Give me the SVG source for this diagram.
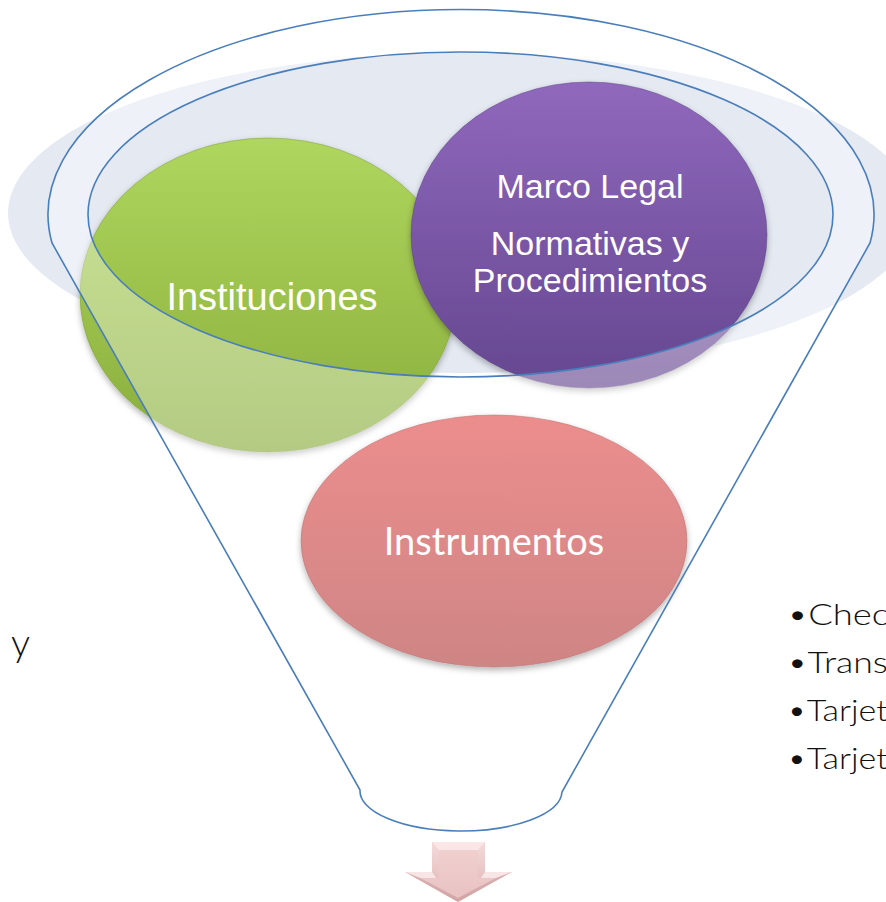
<svg xmlns="http://www.w3.org/2000/svg" width="886" height="902" viewBox="0 0 886 902">
  <defs>
    <linearGradient id="gGreen" x1="0" y1="0" x2="0" y2="1">
      <stop offset="0" stop-color="#afd65e"/>
      <stop offset="0.5" stop-color="#9cc24c"/>
      <stop offset="1" stop-color="#8aad3d"/>
    </linearGradient>
    <linearGradient id="gPurple" x1="0" y1="0" x2="0" y2="1">
      <stop offset="0" stop-color="#9068bd"/>
      <stop offset="0.5" stop-color="#7a57a6"/>
      <stop offset="1" stop-color="#654790"/>
    </linearGradient>
    <linearGradient id="gPink" x1="0" y1="0" x2="0" y2="1">
      <stop offset="0" stop-color="#ec8d8d"/>
      <stop offset="1" stop-color="#cf8585"/>
    </linearGradient>
    <linearGradient id="gArrow" x1="0" y1="0" x2="0" y2="1">
      <stop offset="0" stop-color="#f5dada"/>
      <stop offset="1" stop-color="#ddb2b2"/>
    </linearGradient>
    <filter id="shadow" x="-10%" y="-10%" width="120%" height="125%">
      <feDropShadow dx="0" dy="3" stdDeviation="3" flood-color="#000" flood-opacity="0.3"/>
    </filter>
    <style>
      .node-ellipse { filter: url(#shadow); stroke-width: 1; stroke-opacity: 0.5; }
      .label { fill: #ffffff; font-family: "Liberation Sans", Arial, sans-serif; text-anchor: middle; }
      .label2 { fill: #ffffff; font-family: Lato, "Liberation Sans", sans-serif; text-anchor: middle; }
      .funnel-line { fill: none; stroke: #4a7ebb; stroke-width: 1.6; }
      .side { fill: #111111; font-family: Lato, "Liberation Sans", sans-serif; font-weight: 300; font-size: 29px; }
      .side-big { font-size: 38px; }
    </style>
  </defs>

  <rect width="886" height="902" fill="#ffffff"/>

  <!-- pale background ellipse of the funnel mouth -->
  <ellipse cx="462" cy="213" rx="454" ry="160" fill="#e4e9f2"/>

  <g id="node-instituciones">
    <ellipse class="node-ellipse" cx="268" cy="295" rx="188" ry="157" fill="url(#gGreen)" stroke="#7d9e36"/>
    <text class="label" x="272" y="310" font-size="38">Instituciones</text>
  </g>

  <g id="node-marco-legal">
    <ellipse class="node-ellipse" cx="589" cy="235" rx="178" ry="153" fill="url(#gPurple)" stroke="#5a3f80"/>
    <text class="label" x="590" y="198" font-size="34">Marco Legal</text>
    <text class="label" x="590" y="255" font-size="34">Normativas y</text>
    <text class="label" x="590" y="292" font-size="34">Procedimientos</text>
  </g>

  <!-- funnel body: translucent white over everything outside the mouth -->
  <g id="funnel">
    <path d="M52,243 A413,205 0 1 1 870,243 L562,792 A101,40 0 0 1 360,790 Z M88,214.5 A372.5,162.5 0 1 0 833,214.5 A372.5,162.5 0 1 0 88,214.5 Z" fill="#ffffff" fill-opacity="0.36" fill-rule="evenodd"/>
  </g>

  <g id="node-instrumentos">
    <ellipse class="node-ellipse" cx="494" cy="541" rx="193" ry="126" fill="url(#gPink)" stroke="#b87070"/>
    <text class="label2" x="494" y="555" font-size="38">Instrumentos</text>
  </g>

  <g id="connectors">
    <path class="funnel-line" d="M52,243 A413,205 0 1 1 870,243 L562,792 A101,40 0 0 1 360,790 Z"/>
    <ellipse class="funnel-line" cx="460.5" cy="214.5" rx="372.5" ry="162.5"/>
  </g>

  <g id="arrow">
    <polygon points="432,842 485,842 485,872 512,872 458,902 405,872 432,872" fill="url(#gArrow)"/>
    <polygon points="432,842 485,842 478,850 439,850" fill="#fbeaea" opacity="0.8"/>
    <polygon points="405,872 432,872 436,878 420,878" fill="#fbeeee" opacity="0.8"/>
    <polygon points="485,872 512,872 496,878 481,878" fill="#fbeeee" opacity="0.8"/>
    <polygon points="439,850 478,850 478,878 496,878 458,898 420,878 439,878" fill="#f0cccc" opacity="0.6"/>
    <polygon points="458,902 512,872 496,878 458,898 420,878 405,872" fill="#c99999" opacity="0.5"/>
  </g>

  <g id="side-texts">
    <text class="side side-big" x="11" y="656">y</text>
    <text class="side" x="787" y="625" textLength="102" lengthAdjust="spacingAndGlyphs">•Chec</text>
    <text class="side" x="787" y="673" textLength="101" lengthAdjust="spacingAndGlyphs">•Trans</text>
    <text class="side" x="787" y="721" textLength="101" lengthAdjust="spacingAndGlyphs">•Tarjet</text>
    <text class="side" x="787" y="769" textLength="101" lengthAdjust="spacingAndGlyphs">•Tarjet</text>
  </g>
</svg>
